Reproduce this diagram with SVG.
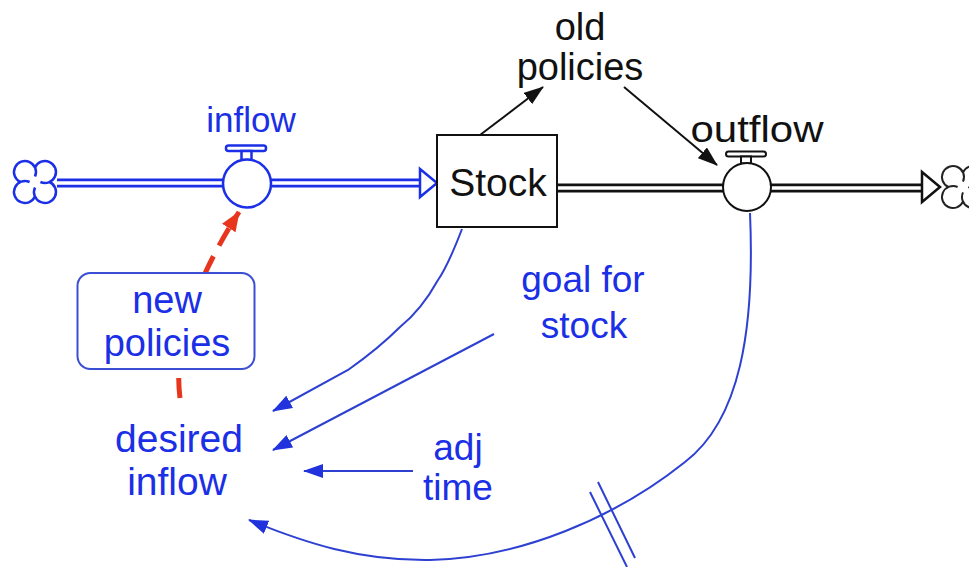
<svg xmlns="http://www.w3.org/2000/svg" xmlns:xlink="http://www.w3.org/1999/xlink" width="969" height="567" viewBox="0 0 969 567">
<defs>
<style>
.t{font-family:"Liberation Sans",Arial,sans-serif;text-anchor:middle}
.b{fill:#1a2fe6}
.k{fill:#111}
.ln{fill:none;stroke:#2d40d2;stroke-width:2}
.lk{fill:none;stroke:#111;stroke-width:2}
</style>
<marker id="ab" viewBox="0 0 20 14" refX="19" refY="7" markerWidth="20" markerHeight="14" markerUnits="userSpaceOnUse" orient="auto">
<path d="M0,0 L20,7 L0,14 Z" fill="#2133dc"/>
</marker>
<marker id="ak" viewBox="0 0 20 14" refX="19" refY="7" markerWidth="20" markerHeight="14" markerUnits="userSpaceOnUse" orient="auto">
<path d="M0,0 L20,7 L0,14 Z" fill="#111"/>
</marker>
<marker id="ar" viewBox="0 0 20 16" refX="19" refY="8" markerWidth="20" markerHeight="16" markerUnits="userSpaceOnUse" orient="auto">
<path d="M0,0 L20,8 L0,16 Z" fill="#e8351e"/>
</marker>
<path id="lobe" d="M-14.6,0 A11,11 0 1 1 0,-5.4"/>
</defs>

<g id="connectors">
<!-- inflow pipe -->
<path d="M57,183 H223 M271,183 H421" fill="none" stroke="#1a2fe6" stroke-width="9"/>
<path d="M55,183 H225 M269,183 H423" fill="none" stroke="#fff" stroke-width="3.5"/>
<path d="M420,169 L437,183 L420,197 Z" fill="#fff" stroke="#1a2fe6" stroke-width="2.5" stroke-linejoin="miter"/>
<!-- outflow pipe -->
<path d="M557,188 H724 M771,188 H923" fill="none" stroke="#111" stroke-width="9"/>
<path d="M557,188 H726 M769,188 H925" fill="none" stroke="#fff" stroke-width="3.5"/>
<path d="M922,172 L940,187 L922,202 Z" fill="#fff" stroke="#111" stroke-width="2.5"/>
<!-- black info links -->
<path class="lk" d="M480,135 L543,87" marker-end="url(#ak)"/>
<path class="lk" d="M624,87 L717,165" marker-end="url(#ak)"/>
<!-- red dashed -->
<path d="M180,398 Q170,320 239,212" fill="none" stroke="#e8351e" stroke-width="5" stroke-dasharray="20,12" marker-end="url(#ar)"/>
<!-- blue links -->
<path class="ln" d="M462,229 C452,255 445,270 438,280 C428,298 415,315 400,327 C385,342 365,358 348,370 L273,411" marker-end="url(#ab)"/>
<path class="ln" d="M494,334 L273,450" marker-end="url(#ab)"/>
<path class="ln" d="M413,471 L304,471" marker-end="url(#ab)"/>
<path class="ln" d="M750,213 C755,330 740,420 685,462 C615,518 520,558 430,560 C360,561 305,543 249,520" marker-end="url(#ab)"/>
<path class="ln" d="M590,492 L627,567 M598,482 L635,558"/>
</g>

<g id="source-cloud" fill="none" stroke="#1a2fe6" stroke-width="2.5" transform="translate(35,182)">
<use xlink:href="#lobe"/>
<use xlink:href="#lobe" transform="rotate(90)"/>
<use xlink:href="#lobe" transform="rotate(180)"/>
<use xlink:href="#lobe" transform="rotate(270)"/>
</g>

<g id="sink-cloud" fill="none" stroke="#222" stroke-width="2" transform="translate(963,187)">
<use xlink:href="#lobe"/>
<use xlink:href="#lobe" transform="rotate(90)"/>
<use xlink:href="#lobe" transform="rotate(180)"/>
<use xlink:href="#lobe" transform="rotate(270)"/>
</g>

<g id="inflow">
<rect x="226" y="145.5" width="40" height="5.5" rx="2.5" fill="#fff" stroke="#1a2fe6" stroke-width="2.5"/>
<rect x="241.5" y="151" width="10" height="9" fill="#fff" stroke="#1a2fe6" stroke-width="2.5"/>
<circle cx="247" cy="183.5" r="24" fill="#fff" stroke="#1a2fe6" stroke-width="2.5"/>
<text class="t b" x="251" y="132" font-size="35">inflow</text>
</g>

<g id="stock">
<rect x="437" y="135" width="120" height="92" fill="#fff" stroke="#111" stroke-width="2"/>
<text class="t k" x="498" y="196" font-size="39">Stock</text>
</g>

<g id="outflow">
<rect x="726" y="151.5" width="40" height="5" rx="2.5" fill="#fff" stroke="#111" stroke-width="2"/>
<rect x="741" y="156.5" width="10" height="7" fill="#fff" stroke="#111" stroke-width="2"/>
<circle cx="747" cy="187" r="24" fill="#fff" stroke="#111" stroke-width="2"/>
<text class="t k" x="757" y="142" font-size="36" textLength="133" lengthAdjust="spacingAndGlyphs">outflow</text>
</g>

<g id="old-policies">
<text class="t k" x="580" y="40" font-size="38">old</text>
<text class="t k" x="580" y="80" font-size="38">policies</text>
</g>

<g id="new-policies">
<rect x="77.5" y="273" width="177" height="96" rx="13" fill="#fff" stroke="#3a4fd4" stroke-width="2"/>
<text class="t b" x="167" y="313" font-size="38">new</text>
<text class="t b" x="167" y="356" font-size="38">policies</text>
</g>

<g id="desired-inflow">
<text class="t b" x="179" y="452" font-size="39">desired</text>
<text class="t b" x="177" y="495" font-size="39">inflow</text>
</g>

<g id="goal-for-stock">
<text class="t b" x="583" y="292" font-size="37">goal for</text>
<text class="t b" x="584" y="338" font-size="37">stock</text>
</g>

<g id="adj-time">
<text class="t b" x="458" y="460" font-size="37">adj</text>
<text class="t b" x="458" y="500" font-size="37">time</text>
</g>
</svg>
